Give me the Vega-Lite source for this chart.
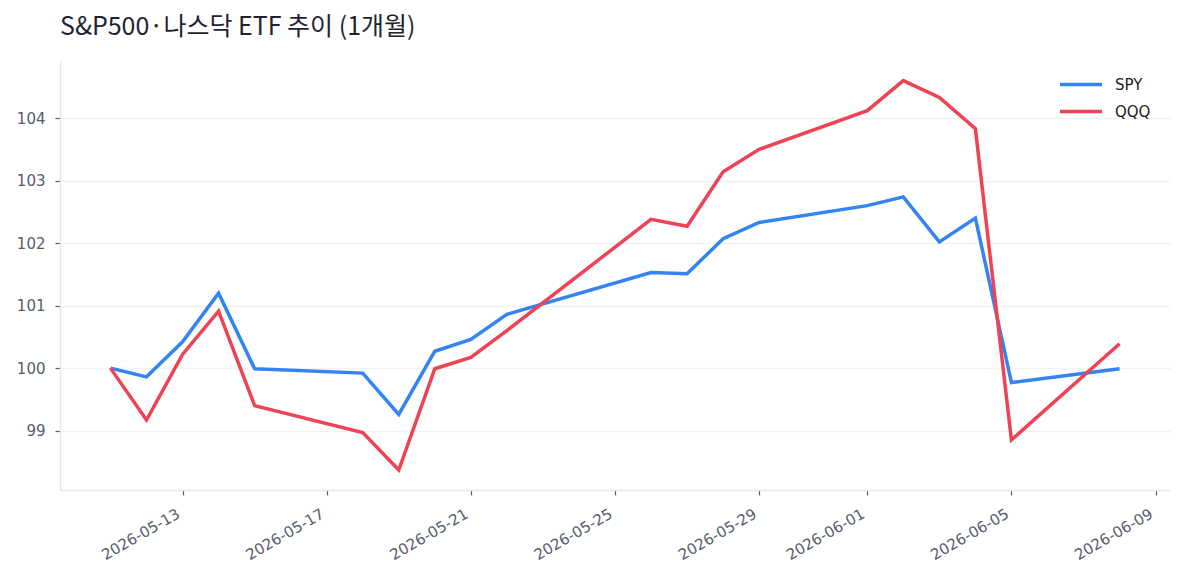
{
  "$schema": "https://vega.github.io/schema/vega-lite/v6.json",
  "width": 1110,
  "height": 430,
  "autosize": {"type": "none"},
  "padding": {"left": 60, "top": 60, "right": 15, "bottom": 95},
  "background": "white",
  "config": {
    "font": "Noto Sans CJK KR",
    "view": {"stroke": null}
  },
  "title": {
    "text": "S&P500·나스닥 ETF 추이 (1개월)",
    "anchor": "start",
    "frame": "group",
    "font": "Noto Sans CJK KR",
    "fontSize": 25,
    "fontWeight": "normal",
    "color": "#1f2430",
    "offset": 20
  },
  "data": {
    "values": [
      {"date": "2026-05-11", "ticker": "SPY", "value": 100.0},
      {"date": "2026-05-12", "ticker": "SPY", "value": 99.86},
      {"date": "2026-05-13", "ticker": "SPY", "value": 100.42},
      {"date": "2026-05-14", "ticker": "SPY", "value": 101.2},
      {"date": "2026-05-15", "ticker": "SPY", "value": 99.99},
      {"date": "2026-05-18", "ticker": "SPY", "value": 99.92},
      {"date": "2026-05-19", "ticker": "SPY", "value": 99.26},
      {"date": "2026-05-20", "ticker": "SPY", "value": 100.27},
      {"date": "2026-05-21", "ticker": "SPY", "value": 100.46},
      {"date": "2026-05-22", "ticker": "SPY", "value": 100.86},
      {"date": "2026-05-26", "ticker": "SPY", "value": 101.53},
      {"date": "2026-05-27", "ticker": "SPY", "value": 101.51},
      {"date": "2026-05-28", "ticker": "SPY", "value": 102.07},
      {"date": "2026-05-29", "ticker": "SPY", "value": 102.33},
      {"date": "2026-06-01", "ticker": "SPY", "value": 102.6},
      {"date": "2026-06-02", "ticker": "SPY", "value": 102.74},
      {"date": "2026-06-03", "ticker": "SPY", "value": 102.02},
      {"date": "2026-06-04", "ticker": "SPY", "value": 102.4},
      {"date": "2026-06-05", "ticker": "SPY", "value": 99.77},
      {"date": "2026-06-08", "ticker": "SPY", "value": 99.99},
      {"date": "2026-05-11", "ticker": "QQQ", "value": 100.0},
      {"date": "2026-05-12", "ticker": "QQQ", "value": 99.17},
      {"date": "2026-05-13", "ticker": "QQQ", "value": 100.22},
      {"date": "2026-05-14", "ticker": "QQQ", "value": 100.91},
      {"date": "2026-05-15", "ticker": "QQQ", "value": 99.4},
      {"date": "2026-05-18", "ticker": "QQQ", "value": 98.97},
      {"date": "2026-05-19", "ticker": "QQQ", "value": 98.37},
      {"date": "2026-05-20", "ticker": "QQQ", "value": 99.99},
      {"date": "2026-05-21", "ticker": "QQQ", "value": 100.17},
      {"date": "2026-05-22", "ticker": "QQQ", "value": 100.6},
      {"date": "2026-05-26", "ticker": "QQQ", "value": 102.38},
      {"date": "2026-05-27", "ticker": "QQQ", "value": 102.27},
      {"date": "2026-05-28", "ticker": "QQQ", "value": 103.14},
      {"date": "2026-05-29", "ticker": "QQQ", "value": 103.5},
      {"date": "2026-06-01", "ticker": "QQQ", "value": 104.12},
      {"date": "2026-06-02", "ticker": "QQQ", "value": 104.6},
      {"date": "2026-06-03", "ticker": "QQQ", "value": 104.33},
      {"date": "2026-06-04", "ticker": "QQQ", "value": 103.83},
      {"date": "2026-06-05", "ticker": "QQQ", "value": 98.85},
      {"date": "2026-06-08", "ticker": "QQQ", "value": 100.39}
    ]
  },
  "mark": {"type": "line", "strokeWidth": 3.5, "interpolate": "linear"},
  "encoding": {
    "x": {
      "field": "date",
      "type": "temporal",
      "scale": {
        "type": "utc",
        "domain": [
          {"year": 2026, "month": 5, "date": 9, "hours": 14, "minutes": 24, "utc": true},
          {"year": 2026, "month": 6, "date": 9, "hours": 9, "minutes": 36, "utc": true}
        ]
      },
      "axis": {
        "title": null,
        "grid": false,
        "values": [
          {"year": 2026, "month": 5, "date": 13, "utc": true},
          {"year": 2026, "month": 5, "date": 17, "utc": true},
          {"year": 2026, "month": 5, "date": 21, "utc": true},
          {"year": 2026, "month": 5, "date": 25, "utc": true},
          {"year": 2026, "month": 5, "date": 29, "utc": true},
          {"year": 2026, "month": 6, "date": 1, "utc": true},
          {"year": 2026, "month": 6, "date": 5, "utc": true},
          {"year": 2026, "month": 6, "date": 9, "utc": true}
        ],
        "labelExpr": "utcFormat(datum.value, '%Y-%m-%d')",
        "labelFont": "DejaVu Sans",
        "labelAngle": -30,
        "labelAlign": "right",
        "labelBaseline": "top",
        "labelFontSize": 15,
        "labelColor": "#555d6e",
        "labelPadding": 11,
        "labelOffset": -8,
        "labelOverlap": false,
        "labelFlush": false,
        "tickColor": "#555d6e",
        "tickSize": 5,
        "tickWidth": 1.2,
        "domainColor": "#e5e7eb",
        "domainWidth": 1.5
      }
    },
    "y": {
      "field": "value",
      "type": "quantitative",
      "scale": {"domain": [98.05, 104.93], "zero": false, "nice": false},
      "axis": {
        "title": null,
        "values": [99, 100, 101, 102, 103, 104],
        "labelFont": "DejaVu Sans",
        "labelFontSize": 15,
        "labelColor": "#555d6e",
        "labelPadding": 10,
        "tickColor": "#555d6e",
        "tickSize": 5,
        "tickWidth": 1.2,
        "domainColor": "#e5e7eb",
        "domainWidth": 1.5,
        "grid": true,
        "gridColor": "#f1f2f4",
        "gridWidth": 1.5
      }
    },
    "color": {
      "field": "ticker",
      "type": "nominal",
      "sort": ["SPY", "QQQ"],
      "scale": {"domain": ["SPY", "QQQ"], "range": ["#3483f5", "#ee4352"]},
      "legend": {
        "title": null,
        "orient": "none",
        "legendX": 998,
        "legendY": 16,
        "symbolType": "stroke",
        "symbolSize": 1764,
        "symbolStrokeWidth": 3.5,
        "labelFont": "DejaVu Sans",
        "labelFontSize": 15,
        "labelColor": "#1a1a1a",
        "clipHeight": 17,
        "rowPadding": 10,
        "labelOffset": 11
      }
    }
  }
}
